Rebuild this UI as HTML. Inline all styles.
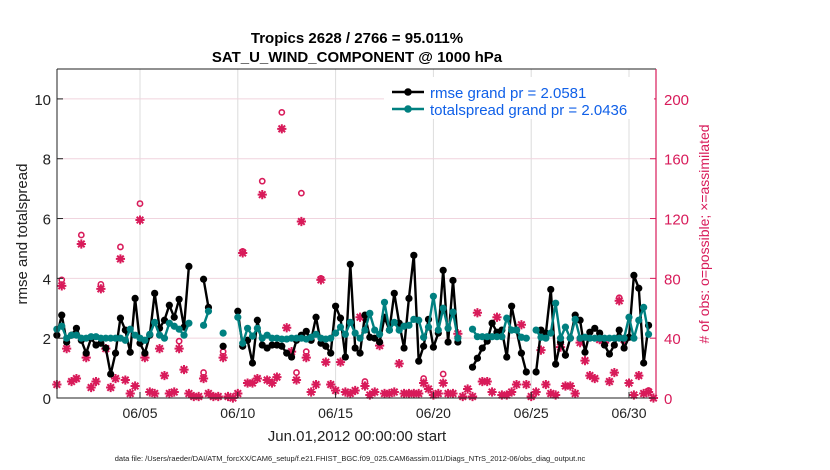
<!DOCTYPE html>
<html><head><meta charset="utf-8"><style>
body{margin:0;background:#fff;}
svg{display:block;font-family:"Liberation Sans",Arial,sans-serif;}
</style></head><body>
<svg id="chart" width="830" height="470" viewBox="0 0 830 470">
<g id="grid"></g>
<g id="series"></g>
<g id="axes"></g>
<text x="357" y="43" text-anchor="middle" font-size="15" font-weight="bold">Tropics 2628 / 2766 = 95.011%</text>
<text x="357" y="62" text-anchor="middle" font-size="15" font-weight="bold">SAT_U_WIND_COMPONENT @ 1000 hPa</text>
<text x="357" y="441" text-anchor="middle" font-size="15" fill="#222">Jun.01,2012 00:00:00 start</text>
<text transform="translate(27,234) rotate(-90)" text-anchor="middle" font-size="15" fill="#222">rmse and totalspread</text>
<text transform="translate(709,234) rotate(-90)" text-anchor="middle" font-size="14" fill="#d81b5a"># of obs: o=possible; ×=assimilated</text>
<text x="350" y="461" text-anchor="middle" font-size="7.5" fill="#222">data file: /Users/raeder/DAI/ATM_forcXX/CAM6_setup/f.e21.FHIST_BGC.f09_025.CAM6assim.011/Diags_NTrS_2012-06/obs_diag_output.nc</text>
<g>
<rect x="384" y="77" width="270" height="42" fill="#fff"/>
<g>
<line x1="392" y1="92" x2="424" y2="92" stroke="#000" stroke-width="2.5"/><circle cx="408" cy="92" r="3.8" fill="#000"/>
<text x="430" y="98" font-size="15" fill="#1060e8">rmse grand pr = 2.0581</text></g>
<g>
<line x1="392" y1="109" x2="424" y2="109" stroke="#008080" stroke-width="2.5"/><circle cx="408" cy="109" r="3.8" fill="#008080"/>
<text x="430" y="115" font-size="15" fill="#1060e8">totalspread grand pr = 2.0436</text></g>
</g>
</svg>
<script>
const rmse=[2.1,2.77,1.87,2.1,2.33,1.93,1.5,2.0,1.77,1.83,1.67,0.8,1.5,2.67,2.27,1.53,3.33,1.83,1.5,2.1,3.5,2.33,2.6,3.1,2.7,3.3,2.37,4.4,
null,null,3.97,3.03,null,null,1.73,null,null,
2.9,1.73,1.93,1.17,2.6,1.77,1.67,1.77,1.77,1.73,1.5,1.37,1.93,2.1,2.23,1.93,2.7,1.83,1.73,1.5,3.07,2.67,1.37,4.47,1.67,
1.5,2.77,2.03,2.0,1.87,2.7,2.27,3.5,2.5,1.67,3.33,4.77,1.23,1.73,2.63,1.7,2.17,4.27,1.87,3.93,1.87,null,null,1.03,1.33,1.67,1.9,2.5,2.2,2.27,1.37,
3.07,2.27,1.5,0.87,null,0.87,2.27,2.17,3.63,1.13,1.87,1.43,2.0,2.77,2.6,1.53,2.2,2.33,2.17,1.77,1.47,1.77,2.27,1.67,2.03,4.1,3.67,1.17,2.43,null];
const spread=[2.3,2.4,2.0,2.1,2.1,2.0,2.0,2.05,2.05,2.0,2.0,2.0,2.0,2.0,1.93,2.3,2.1,2.0,1.93,2.13,2.53,2.1,2.0,2.5,2.4,2.3,2.1,2.5,
null,null,2.43,2.9,null,null,2.17,null,null,
2.7,1.83,2.33,2.07,2.33,2.0,2.1,2.0,2.0,1.97,1.97,2.0,2.0,2.0,1.97,2.03,2.13,2.0,1.97,2.0,2.17,2.37,2.13,2.53,2.17,
2.0,2.27,2.83,2.27,2.13,3.2,2.27,2.53,2.27,2.4,2.43,2.63,2.6,2.03,2.37,3.4,2.27,3.0,2.33,2.87,2.0,null,null,2.3,2.05,2.05,2.05,2.05,2.05,2.05,2.67,
2.27,2.27,2.03,2.0,null,2.27,2.03,2.0,2.17,3.17,2.0,2.37,2.0,2.63,2.0,2.03,2.0,2.0,2.0,2.0,2.0,2.0,2.0,2.0,2.7,2.0,2.6,3.03,2.13,null];
const assimilated=[9,75,33,11,13,103,27,7,11,73,33,7,13,93,12,3,8,119,27,4,3,33,15,3,4,33,19,3,1,1,13,3,1,1,27,1,0,3,97,10,10,13,136,12,10,14,180,47,31,12,118,27,4,9,79,24,9,5,24,4,3,5,54,8,2,4,35,3,3,4,23,3,3,3,3,10,6,2,3,10,3,3,43,1,6,1,57,11,11,4,54,2,2,4,9,49,9,1,4,32,9,3,2,34,8,8,3,37,25,15,13,39,37,11,17,65,39,10,2,15,3,4,0];
const possible=[9,79,33,11,13,109,27,7,11,76,33,7,13,101,12,3,8,130,27,4,3,33,15,3,4,38,19,3,1,1,17,3,1,1,31,1,0,3,98,10,10,13,145,12,10,14,191,47,31,17,137,31,4,9,80,24,9,5,24,4,3,5,54,11,2,4,35,3,3,4,23,3,3,3,3,13,6,2,3,16,3,3,43,1,6,1,57,11,11,4,54,2,2,4,9,49,9,1,4,32,9,3,2,34,8,8,3,40,25,15,13,39,37,11,17,67,40,10,2,15,3,5,0];
const xTickDays=[4,9,14,19,24,29];
const xTickLabels=["06/05","06/10","06/15","06/20","06/25","06/30"];
const leftTicks=[0,2,4,6,8,10];
const rightTicks=[0,40,80,120,160,200];

const L=57,R=656,T=69,B=398;
const xS=t=>140+(t-4)*19.56;
const tOf=i=>-0.25+0.25*i;
const yL=v=>B-(v/11)*(B-T);
const yR=v=>B-(v/220)*(B-T);
const NS="http://www.w3.org/2000/svg";
function mk(tag,attrs,parent){const e=document.createElementNS(NS,tag);for(const k in attrs)e.setAttribute(k,attrs[k]);parent.appendChild(e);return e;}
const grid=document.getElementById('grid'),ser=document.getElementById('series'),ax=document.getElementById('axes');

xTickDays.forEach((d,k)=>{
  const g=mk('line',{x1:xS(d),x2:xS(d),y1:T,y2:B,stroke:'#dcdcdc','stroke-width':1},grid);
  
  
  const tk=mk('line',{x1:xS(d),x2:xS(d),y1:B,y2:B-6,stroke:'#222','stroke-width':1},ax);
  
  
  const t=mk('text',{x:xS(d),y:B+20,'text-anchor':'middle','font-size':14,fill:'#222'},ax);
  t.textContent=xTickLabels[k];
  
  
});
leftTicks.forEach(v=>{
  if(v>0){const g=mk('line',{x1:L,x2:R,y1:yL(v),y2:yL(v),stroke:'#f0d4de','stroke-width':1},grid);
  
  }
  const tk=mk('line',{x1:L,x2:L+6,y1:yL(v),y2:yL(v),stroke:'#222'},ax);
  
  
  const t=mk('text',{x:L-6,y:yL(v)+6,'text-anchor':'end','font-size':15,fill:'#222'},ax);
  t.textContent=v;
  
  
});
rightTicks.forEach(v=>{
  const tk=mk('line',{x1:R,x2:R-6,y1:yR(v),y2:yR(v),stroke:'#d81b5a'},ax);
  
  
  const t=mk('text',{x:R+8,y:yR(v)+6,'font-size':15,fill:'#d81b5a'},ax);
  t.textContent=v;
  
  
});
const fr=mk('path',{d:`M${L},${T}H${R}M${L},${T}V${B}H${R}`,stroke:'#222',fill:'none','stroke-width':1},ax);


const ra=mk('line',{x1:R,x2:R,y1:T,y2:B,stroke:'#d81b5a','stroke-width':1.2},ax);



const pc='#d81b5a';
possible.forEach((v,i)=>{
  if(v===assimilated[i])return;
  const c=mk('circle',{cx:xS(tOf(i)),cy:yR(v),r:2.6,fill:'none',stroke:pc,'stroke-width':1.6},ser);
  
  
});
assimilated.forEach((v,i)=>{
  const x=xS(tOf(i)),y=yR(v),s=4.6,d=3.3;
  const p=mk('path',{d:`M${x-s},${y}H${x+s}M${x},${y-s}V${y+s}M${x-d},${y-d}L${x+d},${y+d}M${x-d},${y+d}L${x+d},${y-d}`,stroke:pc,'stroke-width':2,fill:'none'},ser);
  
  
});
function drawLine(arr,color,name){
  let d='',pen=false;
  arr.forEach((v,i)=>{
    if(v===null){pen=false;return;}
    d+=(pen?'L':'M')+xS(tOf(i)).toFixed(1)+','+yL(v).toFixed(1);pen=true;
  });
  const p=mk('path',{d:d,stroke:color,'stroke-width':2.4,fill:'none','stroke-linejoin':'round'},ser);
  
  
  arr.forEach((v,i)=>{
    if(v===null)return;
    const c=mk('circle',{cx:xS(tOf(i)),cy:yL(v),r:3.6,fill:color},ser);
    
    
  });
}
drawLine(rmse,'#000','rmse');
drawLine(spread,'#008080','totalspread');
</script>
</body></html>
